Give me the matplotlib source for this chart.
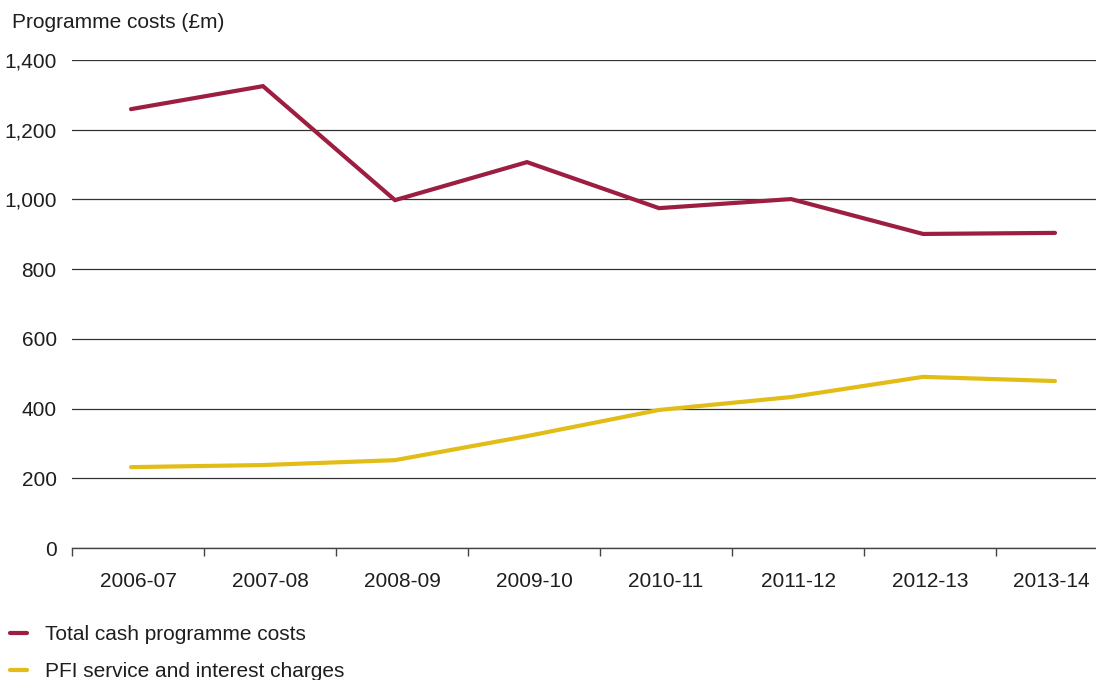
import numpy as np
import matplotlib.pyplot as plt
from matplotlib.lines import Line2D

plt.rcParams['font.family'] = ['Liberation Sans', 'DejaVu Sans']

# --- data ---
years = ["2006-07", "2007-08", "2008-09", "2009-10",
         "2010-11", "2011-12", "2012-13", "2013-14"]
total_cash = [1259, 1325, 998, 1107, 975, 1001, 901, 904]
pfi_charges = [232, 238, 252, 321, 396, 433, 491, 479]
y_ticks = [0, 200, 400, 600, 800, 1000, 1200, 1400]

RED = "#9c1e40"
GOLD = "#e2bd17"
TXT = "#1e1e1e"

fig = plt.figure(figsize=(10.96, 6.8), dpi=100)
ax = fig.add_axes([72 / 1096, 132 / 680, 1 - 72 / 1096, 488 / 680])

x = np.arange(len(years))
ax.plot(x, total_cash, color=RED, lw=3.0, solid_capstyle='round', solid_joinstyle='miter', zorder=3)
ax.plot(x, pfi_charges, color=GOLD, lw=3.0, solid_capstyle='round', solid_joinstyle='miter', zorder=3)

off = 59 / 132
ax.set_xlim(-off, (1096 - 131) / 132)
ax.set_ylim(0, 1400)

# horizontal gridlines
ax.set_yticks(y_ticks)
ax.set_yticklabels([f"{v:,}" for v in y_ticks])
ax.yaxis.grid(True, color="#333333", lw=0.9)
ax.set_axisbelow(True)
ax.tick_params(axis='y', length=0, pad=11, labelsize=15, labelcolor=TXT)

# category band edges as minor ticks, labels at band centres
edges = x - off
centres = list(edges[:-1] + 0.5) + [(1051 - 131) / 132]
ax.set_xticks(edges, minor=True)
ax.set_xticks(centres)
ax.set_xticklabels(years)
ax.tick_params(axis='x', which='minor', length=6, width=1, color="#444444", direction='out')
ax.tick_params(axis='x', which='major', length=0, pad=17, labelsize=15, labelcolor=TXT)

for s in ['top', 'right', 'left']:
    ax.spines[s].set_visible(False)
ax.spines['bottom'].set_color("#444444")
ax.spines['bottom'].set_linewidth(1)

fig.text(12 / 1096, 1 - 22 / 680, "Programme costs (£m)", fontsize=15, color=TXT,
         ha='left', va='center')

handles = [Line2D([0], [0], color=RED, lw=3.0, solid_capstyle='round'),
           Line2D([0], [0], color=GOLD, lw=3.0, solid_capstyle='round')]
fig.legend(handles, ["Total cash programme costs", "PFI service and interest charges"],
           loc='upper left', bbox_to_anchor=(2 / 1096, 1 - 617 / 680), frameon=False,
           fontsize=15, handlelength=0.8, handletextpad=0.85, labelspacing=0.85,
           labelcolor=TXT, borderaxespad=0)

fig.savefig("out.png", dpi=100)
